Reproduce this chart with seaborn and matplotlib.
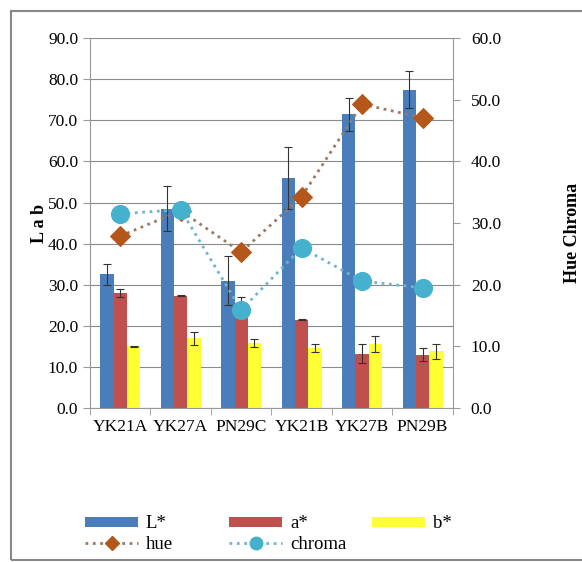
import numpy as np
import pandas as pd
import matplotlib.pyplot as plt
import seaborn as sns
from matplotlib.patches import Rectangle, Patch
from matplotlib.lines import Line2D

# sample names
samples = ["YK21A", "YK27A", "PN29C", "YK21B", "YK27B", "PN29B"]

# L a b values and their error
L_vals = [32.5, 48.5, 31.0, 56.0, 71.5, 77.5]
L_err = [2.5, 5.5, 6.0, 7.5, 4.0, 4.5]
a_vals = [28.0, 27.3, 25.5, 21.5, 13.2, 13.0]
a_err = [1.0, 0.1, 1.5, 0.1, 2.3, 1.5]
b_vals = [15.0, 17.0, 15.8, 14.6, 15.6, 13.8]
b_err = [0.2, 1.6, 1.0, 0.9, 2.0, 1.9]

# hue and chroma (right axis)
hue_vals = [27.9, 32.0, 25.3, 34.3, 49.3, 47.1]
chroma_vals = [31.5, 32.2, 15.9, 26.0, 20.6, 19.5]

colors = {"L*": "#4A7EBB", "a*": "#C0504D", "b*": "#FFFF33"}
hue_color = "#B5561A"
chroma_color = "#46B0CF"
hue_line = "#9a7a66"
chroma_line = "#6fb6cc"

plt.rcParams['font.family'] = ['Liberation Serif', 'DejaVu Serif']

df = pd.DataFrame({
    "sample": samples * 3,
    "param": ["L*"] * 6 + ["a*"] * 6 + ["b*"] * 6,
    "value": L_vals + a_vals + b_vals,
    "err": L_err + a_err + b_err,
})

fig = plt.figure(figsize=(5.82, 5.62), dpi=100)
ax = fig.add_axes([0.1546, 0.274, 0.6234, 0.658])

sns.barplot(data=df, x="sample", y="value", hue="param", palette=colors,
            width=0.66, errorbar=None, saturation=1, legend=False, ax=ax)

# custom error bars on top of the bars
bars = [p for p in ax.patches if p.get_height() > 0]
for p, e in zip(bars, df["err"]):
    xc = p.get_x() + p.get_width() / 2
    ax.errorbar(xc, p.get_height(), yerr=e, color="#333333", lw=0.8,
                capsize=3, capthick=0.8, zorder=5)

ax.set_ylim(0, 90)
ax.set_yticks(np.arange(0, 91, 10))
ax.set_yticklabels([f"{v:.1f}" for v in np.arange(0, 91, 10)], fontsize=12.5)
ax.set_xlim(-0.5, 5.5)
ax.set_xticks(range(6))
ax.set_xticklabels(samples, fontsize=12.5)
ax.tick_params(axis="x", length=0, pad=8)
ax.set_xticks(np.arange(-0.5, 6, 1), minor=True)
ax.tick_params(axis="x", which="minor", length=5, color="#999999")
ax.tick_params(axis="y", length=5, color="#999999")
ax.set_xlabel("")
ax.set_ylabel("L a b", fontsize=13, fontweight="bold", labelpad=0)
ax.grid(axis="y", color="#8a8a8a", lw=0.8)
ax.set_axisbelow(True)
for s in ["top", "right"]:
    ax.spines[s].set_visible(False)
ax.spines["left"].set_color("#999999")
ax.spines["bottom"].set_color("#999999")

ax2 = ax.twinx()
sns.lineplot(x=range(6), y=hue_vals, ax=ax2, color=hue_line, linestyle=":",
             lw=2, marker="D", markersize=10, markerfacecolor=hue_color,
             markeredgecolor=hue_color, zorder=6)
sns.lineplot(x=range(6), y=chroma_vals, ax=ax2, color=chroma_line, linestyle=":",
             lw=2, marker="o", markersize=13, markerfacecolor=chroma_color,
             markeredgecolor=chroma_color, zorder=6)
ax2.set_ylim(0, 60)
ax2.set_yticks(np.arange(0, 61, 10))
ax2.set_yticklabels([f"{v:.1f}" for v in np.arange(0, 61, 10)], fontsize=12.5)
ax2.tick_params(axis="y", length=5, color="#999999", pad=8)
ax2.set_xlim(-0.5, 5.5)
for s in ["top", "left", "bottom"]:
    ax2.spines[s].set_visible(False)
ax2.spines["right"].set_color("#999999")
fig.text(0.983, 0.585, "Hue Chroma", rotation=90, fontsize=13,
         fontweight="bold", ha="center", va="center")

# legend: three columns placed by hand
h_L = Patch(facecolor=colors["L*"], label="L*")
h_a = Patch(facecolor=colors["a*"], label="a*")
h_b = Patch(facecolor=colors["b*"], label="b*")
h_hue = Line2D([], [], color=hue_line, ls=":", lw=2, marker="D", markersize=7,
               markerfacecolor=hue_color, markeredgecolor=hue_color, label="hue")
h_chroma = Line2D([], [], color=chroma_line, ls=":", lw=2, marker="o", markersize=9,
                  markerfacecolor=chroma_color, markeredgecolor=chroma_color,
                  label="chroma")
leg_kw = dict(loc="upper left", frameon=False, fontsize=13.5, handlelength=2.85,
              handleheight=0.45, labelspacing=0.17, handletextpad=0.4,
              borderpad=0, borderaxespad=0)
for hs, x0 in [([h_L, h_hue], 85), ([h_a, h_chroma], 229), ([h_b], 372)]:
    fig.legend(handles=hs, bbox_to_anchor=(x0 / 582, 0.083), **leg_kw)

# outer frame of the chart
fig.patches.append(Rectangle((0.019, 0.004), 1.5, 0.976, transform=fig.transFigure,
                             fill=False, edgecolor="#888888", lw=1.5))

fig.savefig("out.png", dpi=100)
